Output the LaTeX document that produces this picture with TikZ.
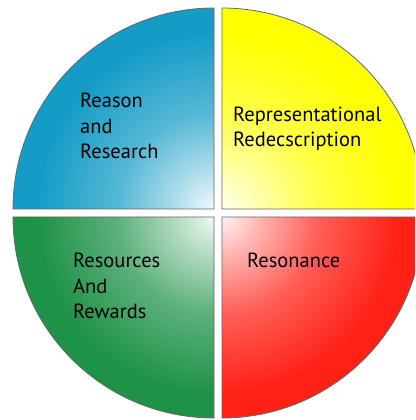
\documentclass[tikz,border=0pt]{standalone}
\usepackage{fontspec}
\setmainfont{PT Sans}
\usepackage{tikz}

\definecolor{quadblue}{RGB}{20,156,198}
\definecolor{quadyellow}{RGB}{255,255,0}
\definecolor{quadgreen}{RGB}{30,146,72}
\definecolor{quadred}{RGB}{255,32,22}

% fade from near white at the centre to full colour at the rim
\newcommand{\quadfade}[2]{%
  \pgfdeclareradialshading{#1}{\pgfpoint{0bp}{0bp}}{%
    color(0bp)=(#2!6!white); color(5bp)=(#2!35!white);
    color(12bp)=(#2!72!white); color(22bp)=(#2); color(50bp)=(#2)}}
\quadfade{bluefade}{quadblue}
\quadfade{yellowfade}{quadyellow}
\quadfade{greenfade}{quadgreen}
\quadfade{redfade}{quadred}

\begin{document}
\begin{tikzpicture}[x=1pt,y=1pt,
    rim/.style={draw=black!60, line width=0.8pt},
    label/.style={anchor=base west, inner sep=0pt, align=left,
      font=\fontsize{20.5}{25.5}\selectfont}]
  \useasboundingbox (0,0) rectangle (415,420);
  \clip (0,0) rectangle (415,420);

  % four quarters, each shaded out from its own corner
  \begin{scope}
    \clip (214,211)--(214,412) arc (90:180:201)--cycle;
    \shade[shading=bluefade] (214,211) circle (201);
  \end{scope}
  \begin{scope}
    \clip (222,211)--(423,211) arc (0:90:201)--cycle;
    \shade[shading=yellowfade] (222,211) circle (201);
  \end{scope}
  \begin{scope}
    \clip (214,203)--(13,203) arc (180:270:201)--cycle;
    \shade[shading=greenfade] (214,203) circle (201);
  \end{scope}
  \begin{scope}
    \clip (222,203)--(222,2) arc (270:360:201)--cycle;
    \shade[shading=redfade] (222,203) circle (201);
  \end{scope}

  \draw[rim] (214,211)--(214,412) arc (90:180:201)--cycle;
  \draw[rim] (222,211)--(423,211) arc (0:90:201)--cycle;
  \draw[rim] (214,203)--(13,203) arc (180:270:201)--cycle;
  \draw[rim] (222,203)--(222,2) arc (270:360:201)--cycle;

  \node[label] (reason) at (80,261) {Reason\\and\\Research};
  \node[label] (repr) at (233,273) {Representational\\Redecscription};
  \node[label] (resources) at (73,101) {Resources\\And\\Rewards};
  \node[label] (resonance) at (247,152) {Resonance};
\end{tikzpicture}
\end{document}
